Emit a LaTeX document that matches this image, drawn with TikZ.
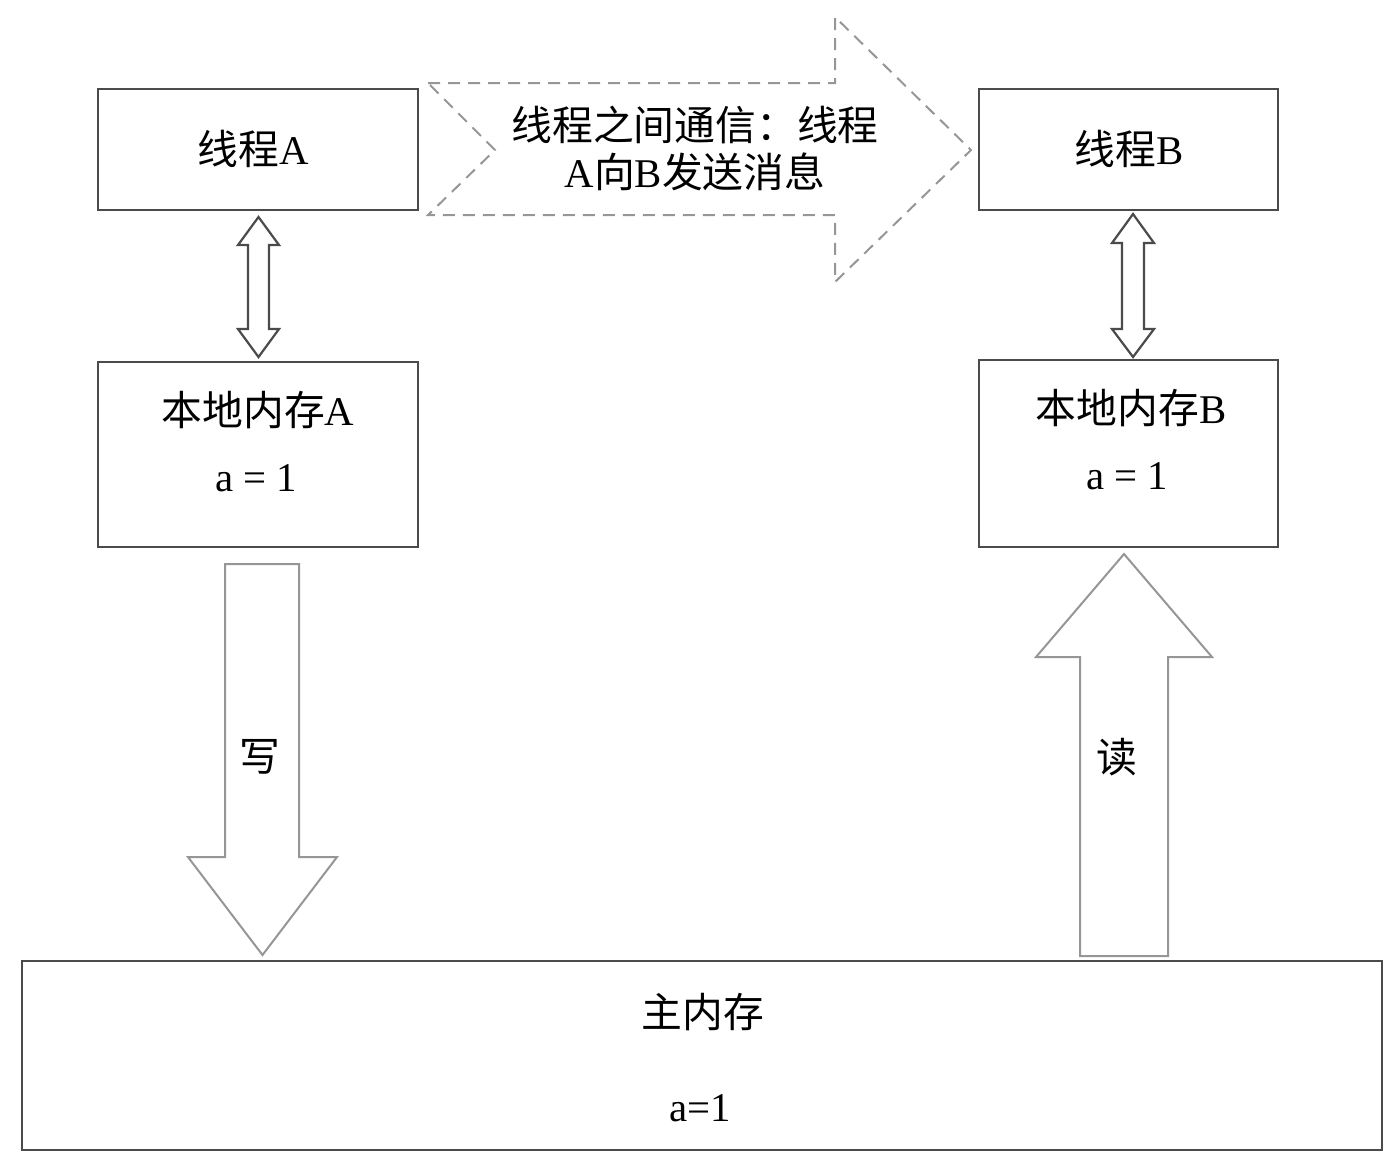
\documentclass[tikz,border=0pt]{standalone}
\usepackage{fontspec}
\setmainfont{Liberation Serif}
\newfontfamily\cjk{Noto Sans CJK SC}
\usetikzlibrary{calc}
\definecolor{FrameClr}{RGB}{75,75,75}
\definecolor{ArrowClr}{RGB}{150,150,150}
\newcommand\zh[1]{{\cjk #1}}

\begin{document}
\begin{tikzpicture}[x=25pt,y=-25pt,
  box/.style={draw=FrameClr,line width=0.55pt,inner sep=0pt},
  txt/.style={font=\fontsize{10.2}{11.75}\selectfont,inner sep=0pt,align=center},
  fatarrow/.style={draw=ArrowClr,line width=0.5pt,fill=white,line join=miter},
  duplex/.style={draw=FrameClr,line width=0.55pt,fill=white,line join=miter}]
\useasboundingbox (0,0) rectangle (14,11.71);

% The two threads.
\node[box,minimum width=80pt,minimum height=30.25pt] (ta) at (2.58,1.495) {};
\node[box,minimum width=74.75pt,minimum height=30.25pt] (tb) at (11.285,1.495) {};
\node[txt] (tatxt) at (2.53,1.49) {\zh{线程}A};
\node[txt] (tbtxt) at (11.29,1.49) {\zh{线程}B};

% Local memories.
\node[box,minimum width=80pt,minimum height=46.25pt] (la) at (2.58,4.545) {};
\node[box,minimum width=74.75pt,minimum height=46.75pt] (lb) at (11.285,4.535) {};
\node[txt] (latxt) at (2.58,4.10) {\zh{本地内存}A};
\node[txt] (laval) at (2.56,4.78) {a = 1};
\node[txt] (lbtxt) at (11.31,4.08) {\zh{本地内存}B};
\node[txt] (lbval) at (11.27,4.76) {a = 1};

% Main memory.
\node[box,minimum width=340pt,minimum height=47.25pt] (mm) at (7.02,10.555) {};
\node[txt] (mmtxt) at (7.03,10.12) {\zh{主内存}};
\node[txt] (mmval) at (7.00,11.08) {a=1};

% Message from A to B: notched dashed arrow.
\draw[draw=ArrowClr,line width=0.5pt,dash pattern=on 3pt off 2pt]
  (4.28,0.83) -- (8.35,0.83) -- (8.35,0.17) -- (9.71,1.50) -- (8.35,2.82)
  -- (8.35,2.15) -- (4.28,2.15) -- (4.95,1.50) -- cycle;
\node[txt] (msg) at (6.95,1.485) {\zh{线程之间通信：线程}\\A\zh{向}B\zh{发送消息}};

% Thread <-> local memory.
\draw[duplex] (2.585,2.17) -- (2.79,2.45) -- (2.69,2.45) -- (2.69,3.29) -- (2.79,3.29)
  -- (2.585,3.57) -- (2.38,3.29) -- (2.48,3.29) -- (2.48,2.45) -- (2.38,2.45) -- cycle;
\draw[duplex] (11.33,2.14) -- (11.54,2.43) -- (11.44,2.43) -- (11.44,3.29) -- (11.54,3.29)
  -- (11.33,3.57) -- (11.12,3.29) -- (11.22,3.29) -- (11.22,2.43) -- (11.12,2.43) -- cycle;

% Write and read.
\draw[fatarrow] (2.25,5.64) -- (2.99,5.64) -- (2.99,8.57) -- (3.37,8.57) -- (2.625,9.55)
  -- (1.88,8.57) -- (2.25,8.57) -- cycle;
\draw[fatarrow] (11.24,5.54) -- (12.12,6.57) -- (11.68,6.57) -- (11.68,9.56) -- (10.80,9.56)
  -- (10.80,6.57) -- (10.36,6.57) -- cycle;
\node[txt] (wr) at (2.60,7.57) {\zh{写}};
\node[txt] (rd) at (11.17,7.57) {\zh{读}};

\end{tikzpicture}
\end{document}
